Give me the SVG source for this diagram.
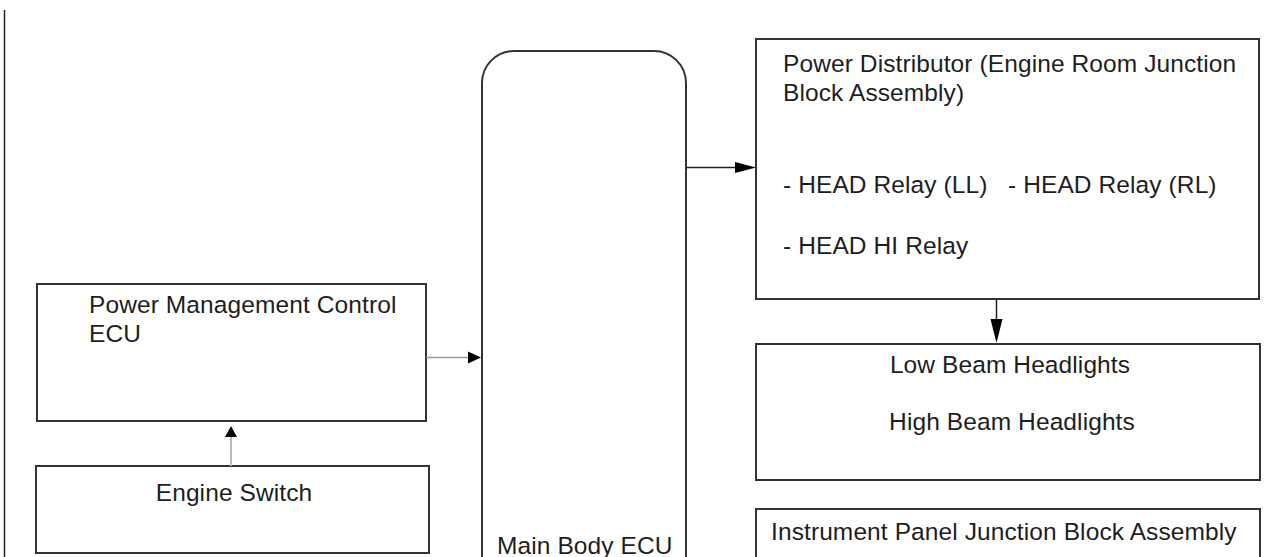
<svg xmlns="http://www.w3.org/2000/svg" width="1275" height="557" viewBox="0 0 1275 557">
<style>
.box{fill:#fff;stroke:#333;stroke-width:2}
.t{font-family:"Liberation Sans",Arial,sans-serif;font-size:24.5px;letter-spacing:0.1px;fill:#1e1e1e}
.c{text-anchor:middle}
</style>
<rect width="1275" height="557" fill="#fff"/>
<line x1="4.5" y1="10" x2="4.5" y2="557" stroke="#222" stroke-width="1.5"/>
<g id="main-body-ecu">
<rect class="box" x="482" y="51" width="204" height="560" rx="32" ry="32"/>
<text class="t" x="497" y="554">Main Body ECU</text>
</g>
<g id="power-distributor">
<rect class="box" x="756" y="39" width="503" height="260"/>
<text class="t" x="783" y="72">Power Distributor (Engine Room Junction</text>
<text class="t" x="783" y="101">Block Assembly)</text>
<text class="t" x="783" y="193"><tspan>- HEAD Relay (LL)</tspan><tspan x="1008">- HEAD Relay (RL)</tspan></text>
<text class="t" x="783" y="254">- HEAD HI Relay</text>
</g>
<g id="headlights">
<rect class="box" x="756" y="344" width="504" height="136"/>
<text class="t c" x="1010" y="373">Low Beam Headlights</text>
<text class="t c" x="1012" y="430">High Beam Headlights</text>
</g>
<g id="instrument-panel-jb">
<rect class="box" x="756" y="509" width="504" height="80"/>
<text class="t" x="771" y="540">Instrument Panel Junction Block Assembly</text>
</g>
<g id="power-management-ecu">
<rect class="box" x="37" y="284" width="389" height="137"/>
<text class="t" x="89" y="313">Power Management Control</text>
<text class="t" x="89" y="342">ECU</text>
</g>
<g id="engine-switch">
<rect class="box" x="36" y="466" width="393" height="87"/>
<text class="t c" x="234" y="501">Engine Switch</text>
</g>
<g id="connectors">
<line x1="686" y1="167.5" x2="736" y2="167.5" stroke="#222" stroke-width="1.5"/>
<path d="M735,162 L756,167.5 L735,173 z" fill="#000"/>
<line x1="426" y1="357.5" x2="469" y2="357.5" stroke="#999" stroke-width="1.5"/>
<path d="M468,351.5 L481,357.5 L468,363.5 z" fill="#000"/>
<line x1="231" y1="466" x2="231" y2="436" stroke="#bbb" stroke-width="2"/>
<path d="M225,437 L231,426 L237,437 z" fill="#000"/>
<line x1="996.5" y1="299" x2="996.5" y2="320" stroke="#222" stroke-width="1.5"/>
<path d="M990.5,319 L996.5,343 L1002.5,319 z" fill="#000"/>
</g>
</svg>
